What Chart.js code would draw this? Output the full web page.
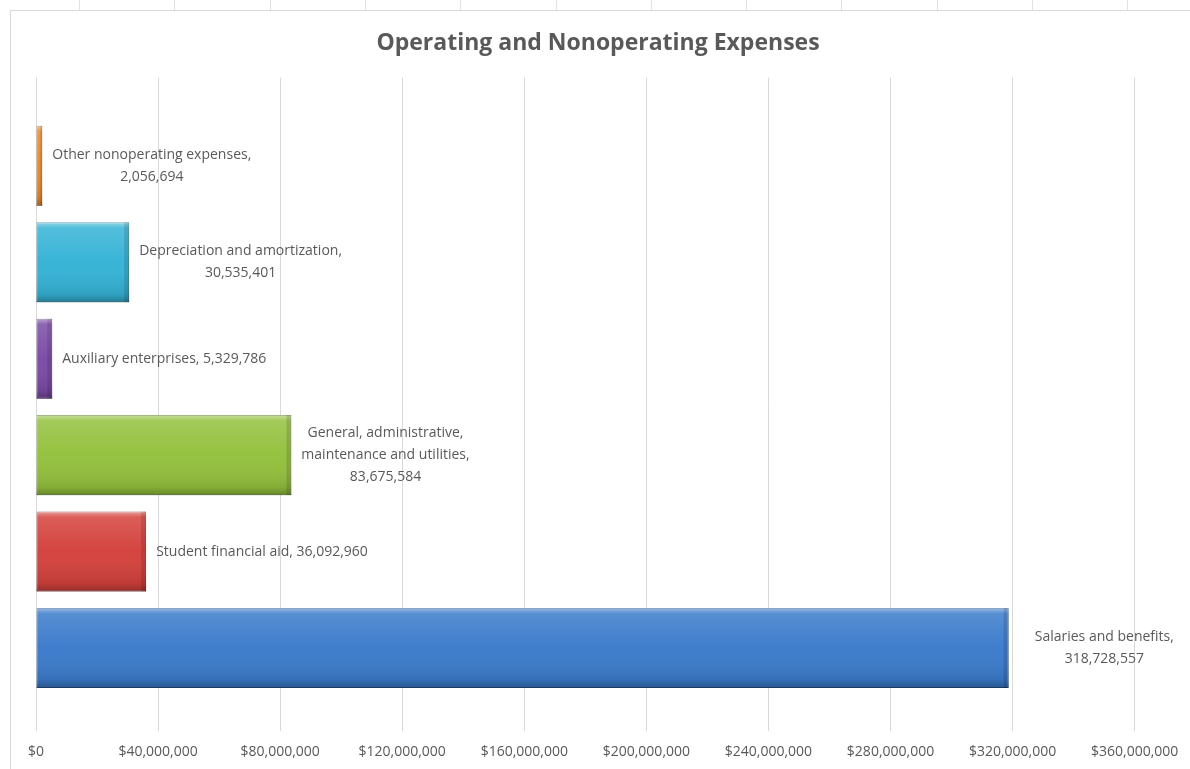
<!DOCTYPE html>
<html>
<head>
<meta charset="utf-8">
<script src="https://cdn.jsdelivr.net/npm/chart.js@4/dist/chart.umd.min.js"></script>
<style>
  html, body { margin: 0; padding: 0; background: #fff; }
  body { width: 1190px; height: 769px; position: relative; overflow: hidden; }
  #strip {
    position: absolute; left: 0; top: 0; width: 1190px; height: 10px;
    background: repeating-linear-gradient(90deg, transparent 0 79px, #e2e2e2 79px 80px, transparent 80px 95.3px);
  }
  #box {
    position: absolute; left: 10px; top: 10px; width: 1180px; height: 759px;
    border-left: 1px solid #d9d9d9; border-top: 1px solid #d9d9d9; box-sizing: border-box;
  }
  #chart { position: absolute; left: 0; top: 0; }
</style>
</head>
<body>
<div id="strip"></div>
<div id="box">
  <canvas id="chart" width="1180" height="771"></canvas>
</div>
<script>
// data, bottom bar first (axis is reversed)
const categories = [
  "Salaries and benefits",
  "Student financial aid",
  "General, administrative, maintenance and utilities",
  "Auxiliary enterprises",
  "Depreciation and amortization",
  "Other nonoperating expenses"
];
const expenses = [318728557, 36092960, 83675584, 5329786, 30535401, 2056694];
const barColors = ["#3b7bcb", "#d4413c", "#93c13d", "#7b4ba6", "#35b3d6", "#e6892c"];
const edgeColors = ["#25558f", "#8e2a26", "#5f8326", "#4d2d6d", "#1f7894", "#9e5a18"];
const tickValues = [0, 40000000, 80000000, 120000000, 160000000, 200000000, 240000000, 280000000, 320000000, 360000000];

// how Excel wrapped each data label
const labelWraps = [
  ["Salaries and benefits,"],
  [],
  ["General, administrative,", "maintenance and utilities,"],
  [],
  ["Depreciation and amortization,"],
  ["Other nonoperating expenses,"]
];

const fmt = v => v.toLocaleString("en-US");
const TEXT = "#595959";
const FONT = "'Open Sans', sans-serif";

// bevel look on each bar + the data labels
const bevelAndLabels = {
  id: "bevelAndLabels",
  afterDatasetsDraw(chart) {
    const ctx = chart.ctx;
    const meta = chart.getDatasetMeta(0);
    meta.data.forEach((bar, i) => {
      const left = bar.base, right = bar.x;
      const top = bar.y - bar.height / 2, bottom = bar.y + bar.height / 2;
      const h = bottom - top;
      ctx.save();
      const g = ctx.createLinearGradient(0, top, 0, bottom);
      g.addColorStop(0, "rgba(255,255,255,0.5)");
      g.addColorStop(0.07, "rgba(255,255,255,0.15)");
      g.addColorStop(0.5, "rgba(255,255,255,0.02)");
      g.addColorStop(0.9, "rgba(0,0,0,0.1)");
      g.addColorStop(1, "rgba(0,0,0,0.3)");
      ctx.fillStyle = g;
      ctx.fillRect(left, top, right - left, h);
      // right edge a bit darker
      const ew = Math.min(5, (right - left) / 3);
      ctx.fillStyle = "rgba(0,0,0,0.12)";
      ctx.fillRect(right - ew, top, ew, h);
      ctx.restore();

      // label
      const lines = labelWraps[i].length
        ? [...labelWraps[i], fmt(expenses[i])]
        : [categories[i] + ", " + fmt(expenses[i])];
      ctx.save();
      ctx.font = "14px " + FONT;
      ctx.fillStyle = TEXT;
      ctx.textBaseline = "middle";
      ctx.textAlign = "center";
      const w = Math.max(...lines.map(l => ctx.measureText(l).width));
      // Excel pushed the long bar's label further out
      const gap = right > chart.chartArea.right * 0.8 ? 26 : 10;
      const cx = right + gap + w / 2;
      const lh = 22;
      lines.forEach((l, k) => {
        ctx.fillText(l, cx, bar.y + (k - (lines.length - 1) / 2) * lh);
      });
      ctx.restore();
    });
  }
};

new Chart(document.getElementById("chart"), {
  type: "bar",
  data: {
    labels: categories,
    datasets: [{
      data: expenses,
      backgroundColor: barColors,
      borderColor: edgeColors,
      borderWidth: 1,
      borderSkipped: false,
      barPercentage: 0.83,
      categoryPercentage: 1
    }]
  },
  options: {
    indexAxis: "y",
    responsive: false,
    animation: false,
    events: [],
    layout: { padding: { left: 25, right: 31, top: 0, bottom: 10 } },
    plugins: {
      legend: { display: false },
      tooltip: { enabled: false },
      title: {
        display: true,
        text: "Operating and Nonoperating Expenses",
        color: TEXT,
        font: { family: FONT, size: 23, weight: "bold", lineHeight: 1.2 },
        padding: { top: 19, bottom: 20 }
      }
    },
    scales: {
      x: {
        type: "linear",
        min: 0,
        max: 368000000,
        afterBuildTicks: axis => { axis.ticks = tickValues.map(v => ({ value: v })); },
        grid: { color: "#d9d9d9", tickLength: 35, lineWidth: 1 },
        border: { display: false },
        ticks: {
          color: TEXT,
          padding: 12,
          maxRotation: 0,
          font: { family: FONT, size: 14 },
          callback: v => "$" + fmt(v)
        }
      },
      x2: {
        type: "linear",
        position: "top",
        min: 0,
        max: 368000000,
        afterBuildTicks: axis => { axis.ticks = tickValues.map(v => ({ value: v })); },
        grid: { color: "#d9d9d9", tickLength: 40, drawOnChartArea: false },
        border: { display: false },
        ticks: { display: false }
      },
      y: {
        display: false,
        reverse: true
      }
    }
  },
  plugins: [bevelAndLabels]
});
</script>
</body>
</html>
